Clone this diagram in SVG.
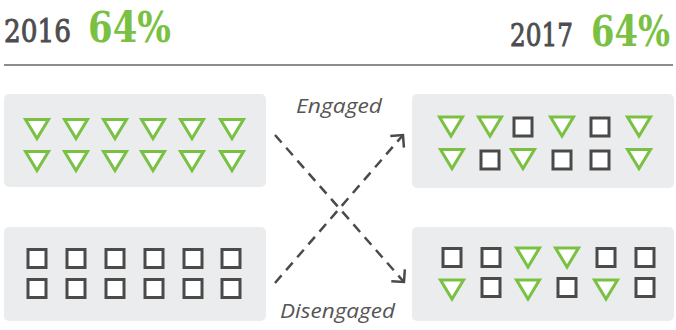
<svg xmlns="http://www.w3.org/2000/svg" xmlns:xlink="http://www.w3.org/1999/xlink" width="676" height="330" viewBox="0 0 676 330">
<style>
.panel{fill:#ebeced}
.tri{fill:#fff;stroke:#7ac143;stroke-width:3}
.sq{fill:#fff;stroke:#4a4a4a;stroke-width:3}
.year{font-family:"DejaVu Serif","Liberation Serif",serif;font-size:32px;fill:#4d4d4f;stroke:#4d4d4f;stroke-width:1}
.pct{font-family:"DejaVu Serif","Liberation Serif",serif;font-weight:bold;font-size:42px;fill:#7ac143}
.lbl{font-family:"Open Sans","Liberation Sans",sans-serif;font-style:italic;font-size:20px;fill:#555}
.arr{fill:none;stroke:#4a4a4a;stroke-width:2.5;stroke-dasharray:10 7}
</style>
<defs>
<polygon id="t" class="tri" points="-11.5,-9 11.5,-9 0,10"/>
<rect id="s" class="sq" x="-9" y="-9" width="18" height="18"/>
<marker id="ah" markerUnits="userSpaceOnUse" markerWidth="20" markerHeight="20" refX="0" refY="0" viewBox="-12 -10 14 20" orient="auto">
<path d="M-9,-9 L0,0 L-9,9" fill="none" stroke="#4a4a4a" stroke-width="2.5"/>
</marker>
</defs>
<g id="header">
<text class="year" x="4" y="42" textLength="67" lengthAdjust="spacingAndGlyphs">2016</text>
<text class="pct" x="88" y="42" textLength="83" lengthAdjust="spacingAndGlyphs">64%</text>
<text class="year" x="510" y="46" textLength="63" lengthAdjust="spacingAndGlyphs">2017</text>
<text class="pct" x="591" y="46" textLength="79" lengthAdjust="spacingAndGlyphs">64%</text>
<line x1="4" y1="65" x2="673" y2="65" stroke="#666" stroke-width="1.3"/>
</g>
<g id="engaged2016">
<rect class="panel" x="4" y="94" width="262" height="93" rx="5"/>
<use xlink:href="#t" x="37" y="128.5"/><use xlink:href="#t" x="76" y="128.5"/><use xlink:href="#t" x="115" y="128.5"/><use xlink:href="#t" x="153" y="128.5"/><use xlink:href="#t" x="192" y="128.5"/><use xlink:href="#t" x="232" y="128.5"/>
<use xlink:href="#t" x="37" y="160.5"/><use xlink:href="#t" x="76" y="160.5"/><use xlink:href="#t" x="115" y="160.5"/><use xlink:href="#t" x="153" y="160.5"/><use xlink:href="#t" x="192" y="160.5"/><use xlink:href="#t" x="232" y="160.5"/>
</g>
<g id="disengaged2016">
<rect class="panel" x="4" y="227" width="262" height="94" rx="5"/>
<use xlink:href="#s" x="37" y="258.5"/><use xlink:href="#s" x="76" y="258.5"/><use xlink:href="#s" x="115" y="258.5"/><use xlink:href="#s" x="154" y="258.5"/><use xlink:href="#s" x="193" y="258.5"/><use xlink:href="#s" x="231" y="258.5"/>
<use xlink:href="#s" x="37" y="288.5"/><use xlink:href="#s" x="76" y="288.5"/><use xlink:href="#s" x="115" y="288.5"/><use xlink:href="#s" x="154" y="288.5"/><use xlink:href="#s" x="193" y="288.5"/><use xlink:href="#s" x="231" y="288.5"/>
</g>
<g id="top2017">
<rect class="panel" x="412" y="94" width="262" height="94" rx="5"/>
<use xlink:href="#t" x="451" y="126"/><use xlink:href="#t" x="490" y="126"/><use xlink:href="#s" x="523" y="127"/><use xlink:href="#t" x="562" y="126"/><use xlink:href="#s" x="600" y="127"/><use xlink:href="#t" x="639" y="126"/>
<use xlink:href="#t" x="452" y="158.5"/><use xlink:href="#s" x="490" y="160"/><use xlink:href="#t" x="523" y="158.5"/><use xlink:href="#s" x="562" y="160"/><use xlink:href="#s" x="600" y="160"/><use xlink:href="#t" x="639" y="158.5"/>
</g>
<g id="bottom2017">
<rect class="panel" x="412" y="227" width="262" height="94" rx="5"/>
<use xlink:href="#s" x="452" y="257.5"/><use xlink:href="#s" x="491" y="257.5"/><use xlink:href="#t" x="528" y="257"/><use xlink:href="#t" x="567" y="257"/><use xlink:href="#s" x="606" y="257.5"/><use xlink:href="#s" x="645" y="257.5"/>
<use xlink:href="#t" x="452" y="289"/><use xlink:href="#s" x="491" y="287.5"/><use xlink:href="#t" x="528" y="289"/><use xlink:href="#s" x="567" y="287.5"/><use xlink:href="#t" x="606" y="289"/><use xlink:href="#s" x="645" y="287.5"/>
</g>
<g id="connectors">
<line class="arr" x1="275" y1="135" x2="404" y2="282" marker-end="url(#ah)"/>
<line class="arr" x1="275" y1="283" x2="403" y2="135" marker-end="url(#ah)"/>
<text class="lbl" x="296" y="113" textLength="86" lengthAdjust="spacingAndGlyphs">Engaged</text>
<text class="lbl" x="280" y="318" textLength="115" lengthAdjust="spacingAndGlyphs">Disengaged</text>
</g>
</svg>
